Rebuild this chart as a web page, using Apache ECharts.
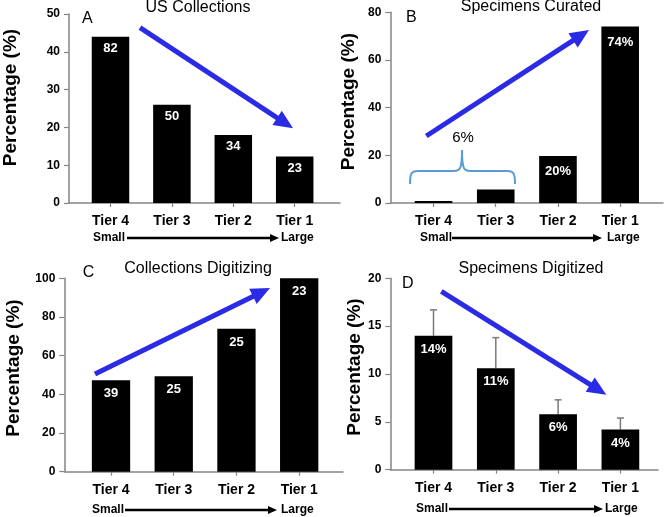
<!DOCTYPE html>
<html>
<head>
<meta charset="utf-8">
<script src="https://cdn.jsdelivr.net/npm/echarts@6/dist/echarts.min.js"></script>
<style>
html,body{margin:0;padding:0;background:#fff;}
#chart{width:666px;height:517px;}
</style>
</head>
<body>
<div id="chart"></div>
<script>
// ---------- DATA ----------
const tiers = ['Tier 4', 'Tier 3', 'Tier 2', 'Tier 1'];

const collectionsPct = [44, 26, 18, 12.3];
const collectionsLabels = ['82', '50', '34', '23'];

const curatedPct = [0.8, 5.7, 19.7, 74];
const curatedLabels = ['', '', '20%', '74%'];

const digitizingPct = [47.3, 49.3, 73.9, 100];
const digitizingLabels = ['39', '25', '25', '23'];

const digitizedPct = [14, 10.6, 5.8, 4.2];
const digitizedErrTop = [16.7, 13.8, 7.3, 5.4];
const digitizedLabels = ['14%', '11%', '6%', '4%'];

const titles = ['US Collections', 'Specimens Curated', 'Collections Digitizing', 'Specimens Digitized'];
const letters = ['A', 'B', 'C', 'D'];
const yMaxes = [50, 80, 100, 20];
const yIntervals = [10, 20, 20, 5];
const yName = 'Percentage (%)';
const bracketText = '6%';

// ---------- LAYOUT / STYLE ----------
const FONT = 'Liberation Sans';
const AXIS_COLOR = '#858585';
const BLUE = '#2b2be6';

const panels = [
  { values: collectionsPct, labels: collectionsLabels,
    frame: {left: 67, top: 14, width: 273, height: 189},
    bars: {left: 79.8, width: 245.6}, barWidth: 37.5, labelDist: 5, nameGap: 49, nameShift: 22,
    title: [198, 0], letter: [82, 19],
    sl: {small: 93, a1: 127, a2: 279, large: 281, y: 238},
    arrow: [140, 27.7, 293, 128.3] },
  { values: curatedPct, labels: curatedLabels,
    frame: {left: 390.3, top: 12.3, width: 272.7, height: 190.7},
    bars: {left: 402.4, width: 248.9}, barWidth: 37.6, labelDist: 9, nameGap: 32, nameShift: 12,
    title: [531, -1], letter: [406, 18],
    sl: {small: 420, a1: 452, a2: 602, large: 607, y: 238},
    arrow: [426.3, 136, 589, 30] },
  { values: digitizingPct, labels: digitizingLabels,
    frame: {left: 64.3, top: 278.3, width: 278.7, height: 193.4},
    bars: {left: 79.65, width: 250.9}, barWidth: 38.3, labelDist: 7, nameGap: 41, nameShift: 14,
    title: [198, 261], letter: [82.7, 273],
    sl: {small: 92, a1: 125, a2: 277, large: 281, y: 510},
    arrow: [95, 374, 270, 288] },
  { values: digitizedPct, labels: digitizedLabels,
    frame: {left: 390.3, top: 278.3, width: 267.7, height: 191.4},
    bars: {left: 402.35, width: 249.2}, barWidth: 37.7, labelDist: 7, nameGap: 26, nameShift: 14,
    title: [531, 261], letter: [402, 283.7],
    sl: {small: 416, a1: 449, a2: 603, large: 605, y: 509},
    arrow: [441.3, 291.3, 606.3, 394.7] }
];

function arrowShapes(x1, y1, x2, y2, lw, headLen, headW, color) {
  const dx = x2 - x1, dy = y2 - y1;
  const len = Math.sqrt(dx * dx + dy * dy);
  const ux = dx / len, uy = dy / len;
  const bx = x2 - ux * headLen, by = y2 - uy * headLen;
  const px = -uy, py = ux;
  return [
    { type: 'line', shape: {x1: x1, y1: y1, x2: bx + ux * 1, y2: by + uy * 1},
      style: {stroke: color, lineWidth: lw}, z: 50 },
    { type: 'polygon', shape: {points: [[x2, y2],
        [bx + px * headW / 2, by + py * headW / 2],
        [bx - px * headW / 2, by - py * headW / 2]]},
      style: {fill: color}, z: 50 }
  ];
}

const grid = [], xAxis = [], yAxis = [], series = [], title = [], graphic = [];

panels.forEach((p, i) => {
  const f = p.frame;
  grid.push({ left: f.left, top: f.top, width: f.width, height: f.height, containLabel: false });
  grid.push({ left: p.bars.left, top: f.top, width: p.bars.width, height: f.height, containLabel: false });

  const fg = 2 * i, bg = 2 * i + 1;
  xAxis.push({ gridIndex: fg, type: 'value', min: 0, max: 1,
    axisLine: {show: true, onZero: false, lineStyle: {color: AXIS_COLOR, width: 1.5}},
    axisTick: {show: false}, axisLabel: {show: false}, splitLine: {show: false} });
  xAxis.push({ gridIndex: bg, type: 'category', data: tiers,
    axisLine: {show: false},
    axisTick: {show: true, alignWithLabel: true, length: 4, lineStyle: {color: AXIS_COLOR, width: 1.2}},
    axisLabel: {fontFamily: FONT, fontWeight: 'bold', fontSize: 14, color: '#000', margin: 11},
    splitLine: {show: false} });
  yAxis.push({ gridIndex: fg, type: 'value', min: 0, max: yMaxes[i], interval: yIntervals[i],
    name: yName, nameLocation: 'middle', nameGap: p.nameGap,
    nameTextStyle: {fontFamily: FONT, fontWeight: 'bold', fontSize: 19, color: '#000',
      padding: [0, 0, 0, p.nameShift]},
    axisLine: {show: true, lineStyle: {color: AXIS_COLOR, width: 1.5}},
    axisTick: {show: true, length: 5, lineStyle: {color: AXIS_COLOR, width: 1.2}},
    axisLabel: {fontFamily: FONT, fontWeight: 'bold', fontSize: 12, color: '#000', margin: 9},
    splitLine: {show: false} });
  yAxis.push({ gridIndex: bg, type: 'value', min: 0, max: yMaxes[i], interval: yIntervals[i], show: false });

  const lbls = p.labels;
  series.push({ type: 'bar', xAxisIndex: bg, yAxisIndex: bg, data: p.values,
    barWidth: p.barWidth, itemStyle: {color: '#000'}, z: 3,
    label: {show: true, position: 'insideTop', distance: p.labelDist,
      formatter: (d) => lbls[d.dataIndex],
      color: '#fff', fontFamily: FONT, fontWeight: 'bold', fontSize: 13} });

  title.push({ text: titles[i], left: p.title[0], top: p.title[1], textAlign: 'center', padding: 0,
    textStyle: {fontFamily: FONT, fontWeight: 'normal', fontSize: 16, color: '#000'} });

  graphic.push({ type: 'text', x: p.letter[0], y: p.letter[1],
    style: {text: letters[i], fontFamily: FONT, fontSize: 16, fill: '#000', verticalAlign: 'middle', align: 'left'} });

  const s = p.sl;
  graphic.push({ type: 'text', x: s.small, y: s.y,
    style: {text: 'Small', fontFamily: FONT, fontWeight: 'bold', fontSize: 12, fill: '#000', verticalAlign: 'middle', align: 'left'} });
  graphic.push({ type: 'text', x: s.large, y: s.y,
    style: {text: 'Large', fontFamily: FONT, fontWeight: 'bold', fontSize: 12, fill: '#000', verticalAlign: 'middle', align: 'left'} });
  arrowShapes(s.a1, s.y, s.a2, s.y, 2.5, 9, 8, '#000').forEach(g => graphic.push(g));

  const a = p.arrow;
  arrowShapes(a[0], a[1], a[2], a[3], 5, 19, 17, BLUE).forEach(g => graphic.push(g));
});

// error bars (panel D)
series.push({ type: 'custom', xAxisIndex: 7, yAxisIndex: 7, z: 2,
  data: digitizedPct.map((v, k) => [k, v, digitizedErrTop[k]]),
  renderItem: function (params, api) {
    const base = api.coord([api.value(0), api.value(1)]);
    const top = api.coord([api.value(0), api.value(2)]);
    const st = {stroke: '#7a7a7a', lineWidth: 1.5};
    return { type: 'group', children: [
      {type: 'line', shape: {x1: base[0], y1: base[1], x2: top[0], y2: top[1]}, style: st},
      {type: 'line', shape: {x1: top[0] - 3.5, y1: top[1], x2: top[0] + 3.5, y2: top[1]}, style: st}
    ]};
  } });

// bracket in panel B (curly brace)
const braceStyle = {fill: 'none', stroke: '#5b9bd5', lineWidth: 2};
[
  {x1: 410, y1: 184, cpx1: 410, cpy1: 174, cpx2: 411, cpy2: 171, x2: 418, y2: 171},
  {x1: 454, y1: 171, cpx1: 460, cpy1: 171, cpx2: 462, cpy2: 169, x2: 462, y2: 150},
  {x1: 462, y1: 150, cpx1: 462, cpy1: 169, cpx2: 464, cpy2: 171, x2: 470, y2: 171},
  {x1: 507, y1: 171, cpx1: 514, cpy1: 171, cpx2: 515, cpy2: 174, x2: 515, y2: 184}
].forEach(sh => graphic.push({type: 'bezierCurve', shape: sh, style: braceStyle, z: 40}));
graphic.push({type: 'line', shape: {x1: 418, y1: 171, x2: 454, y2: 171}, style: braceStyle, z: 40});
graphic.push({type: 'line', shape: {x1: 470, y1: 171, x2: 507, y2: 171}, style: braceStyle, z: 40});
graphic.push({ type: 'text', x: 463, y: 138,
  style: {text: bracketText, fontFamily: FONT, fontSize: 15, fill: '#000', align: 'center', verticalAlign: 'middle'} });

const chart = echarts.init(document.getElementById('chart'), null, {renderer: 'canvas'});
chart.setOption({
  animation: false,
  backgroundColor: '#fff',
  title: title,
  grid: grid,
  xAxis: xAxis,
  yAxis: yAxis,
  series: series,
  graphic: graphic
});
</script>
</body>
</html>
